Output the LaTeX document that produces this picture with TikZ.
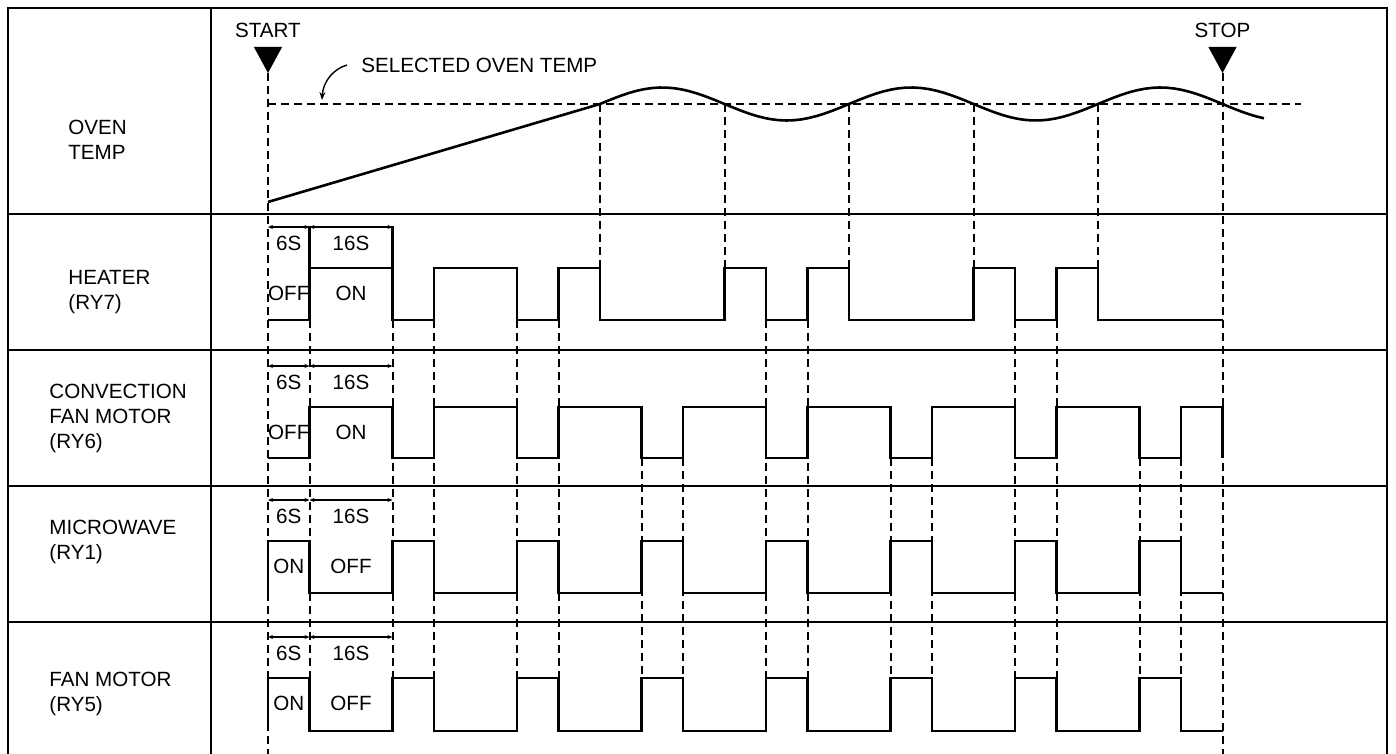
\documentclass[tikz,border=0pt]{standalone}
\usepackage{fontspec}
\setmainfont{Liberation Sans}
\usetikzlibrary{arrows.meta}

\begin{document}
\begin{tikzpicture}[x=0.5pt, y=-0.5pt, >={Stealth[length=2.5pt,width=2pt]},
  every node/.style={font=\fontsize{10.3}{12.5}\selectfont, inner sep=0pt},
  frame/.style={line width=1.4pt},
  grid/.style={line width=1.1pt},
  sig/.style={line width=1.4pt},
  guide/.style={line width=1pt, dash pattern=on 4pt off 2.5pt},
  dim/.style={<->, line width=0.6pt},
  rowlbl/.style={anchor=west, align=left}]

\useasboundingbox (0,0) rectangle (1396,754);

% Frame
\draw[frame] (8,754) -- (8,8) -- (1387,8) -- (1387,754);
\draw[grid] (211,8) -- (211,754);
\foreach \y in {214,350,486,622} \draw[grid] (8,\y) -- (1387,\y);

% Row labels
\node[rowlbl] (ltemp) at (68,140) {OVEN\\TEMP};
\node[rowlbl] (lheat) at (68,292) {HEATER\\(RY7)};
\node[rowlbl] (lconv) at (49,418) {CONVECTION\\FAN MOTOR\\(RY6)};
\node[rowlbl] (lmicro) at (49,542) {MICROWAVE\\(RY1)};
\node[rowlbl] (lfan) at (49,694) {FAN MOTOR\\(RY5)};

% Selected temperature
\node[anchor=west] (settemp) at (361,65) {SELECTED OVEN TEMP};
\coordinate (setpt) at (322,100);
\draw[-{Stealth[length=4pt,width=3pt]}, line width=0.7pt] ([xshift=-7pt]settemp.west)
  .. controls (333,69) and (323,82) .. (setpt);

% Time axis: one step = 41.5px
\begin{scope}[shift={(268,0)}, x=20.75pt]

% Start / stop
\node (start) at (0,30) {START};
\node (stop) at (23,30) {STOP};
\fill (-0.34,47) -- (0.34,47) -- (0,73) -- cycle;
\fill (22.66,47) -- (23.34,47) -- (23,73) -- cycle;

% Guide lines
\draw[guide] (0,104) -- (24.9,104);
\draw[guide] (0,73) -- (0,754);
\draw[guide] (23,73) -- (23,754);
\foreach \t in {8,11,14,17,20} \draw[guide] (\t,104) -- (\t,268);
\foreach \t in {1,3,4,6,7,12,13,18,19} \draw[guide] (\t,320) -- (\t,731);
\foreach \t in {9,10,15,16,21,22} \draw[guide] (\t,458) -- (\t,731);

% Oven temp
\draw[line width=1.3pt] (0,202) -- (8,104)
  -- plot[domain=8:24, samples=90] (\x, {104-16.5*sin(60*(\x-8))});

% Heater (RY7)
\draw[sig] (0,320) -| (1,268) -| (3,320) -| (4,268) -| (6,320) -| (7,268) -| (8,320)
  -| (11,268) -| (12,320) -| (13,268) -| (14,320) -| (17,268) -| (18,320)
  -| (19,268) -| (20,320) -- (23,320);
\draw[sig] (1,226) -- (1,268) (3,226) -- (3,268);

% Convection fan motor (RY6)
\draw[sig] (0,458) -| (1,407) -| (3,458) -| (4,407) -| (6,458) -| (7,407) -| (9,458)
  -| (10,407) -| (12,458) -| (13,407) -| (15,458) -| (16,407) -| (18,458)
  -| (19,407) -| (21,458) -| (22,407) -| (23,458);

% Microwave (RY1) and fan motor (RY5)
\foreach \hi/\lo in {541/593, 678/731} {
  \draw[sig] (0,\lo) -- (0,\hi) -| (1,\lo) -| (3,\hi) -| (4,\lo) -| (6,\hi) -| (7,\lo)
    -| (9,\hi) -| (10,\lo) -| (12,\hi) -| (13,\lo) -| (15,\hi) -| (16,\lo)
    -| (18,\hi) -| (19,\lo) -| (21,\hi) -| (22,\lo) -- (23,\lo);
}

% 6S / 16S intervals
\foreach \hi/\stA/\stB [count=\i] in {268/OFF/ON, 407/OFF/ON, 541/ON/OFF, 678/ON/OFF} {
  \draw[dim] (0,\hi-41) -- (1,\hi-41);
  \draw[dim] (1,\hi-41) -- (3,\hi-41);
  \node (six\i) at (0.5,\hi-25) {6S};
  \node (sixteen\i) at (2,\hi-25) {16S};
  \node (sa\i) at (0.5,\hi+25) {\stA};
  \node (sb\i) at (2,\hi+25) {\stB};
}

\end{scope}
\end{tikzpicture}
\end{document}
